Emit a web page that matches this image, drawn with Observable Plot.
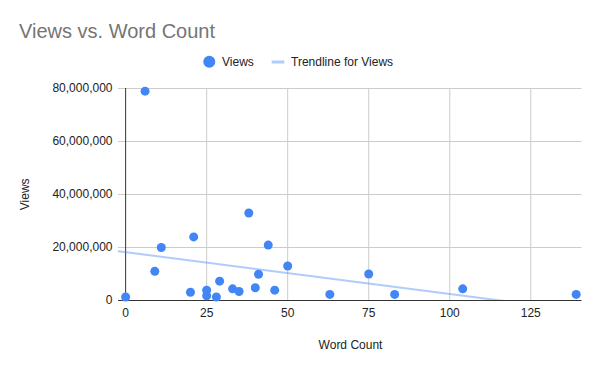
<!DOCTYPE html>
<html>
<head>
<meta charset="utf-8">
<script src="https://cdn.jsdelivr.net/npm/d3@7"></script>
<script src="https://cdn.jsdelivr.net/npm/@observablehq/plot@0.6"></script>
<style>
  html, body { margin: 0; padding: 0; background: #fff; }
  #chart { position: relative; width: 600px; height: 371px; font-family: "Liberation Sans", Arial, sans-serif; }
  #chart > svg.overlay { position: absolute; left: 0; top: 0; pointer-events: none; }
</style>
</head>
<body>
<div id="chart"></div>
<script>
// Data
const wordCount = [0, 6, 9, 11, 20, 21, 25, 25, 28, 29, 33, 35, 38, 40, 41, 44, 46, 50, 63, 75, 83, 104, 139];
const views = [1.3e6, 79e6, 11e6, 20e6, 3.1e6, 24e6, 3.9e6, 1.8e6, 1.3e6, 7.3e6, 4.4e6, 3.4e6, 33e6, 4.8e6, 9.9e6, 20.9e6, 3.9e6, 13e6, 2.3e6, 10e6, 2.3e6, 4.4e6, 2.3e6];
const xTicks = [0, 25, 50, 75, 100, 125];
const yTicks = [0, 20e6, 40e6, 60e6, 80e6];
const titleText = "Views vs. Word Count";
const seriesName = "Views";
const trendName = "Trendline for Views";
const xLabel = "Word Count";
const yLabel = "Views";

const data = wordCount.map((w, i) => ({x: w, y: views[i]}));

// Least-squares trendline
const mx = d3.mean(wordCount), my = d3.mean(views);
const sxy = d3.sum(data, d => (d.x - mx) * (d.y - my));
const sxx = d3.sum(data, d => (d.x - mx) ** 2);
const slope = sxy / sxx, intercept = my - slope * mx;
const xDomain = [-2.2, 140.8];
const trend = xDomain.map(x => ({x, y: intercept + slope * x}));

const font = '"Liberation Sans", Arial, sans-serif';
const plot = Plot.plot({
  width: 600,
  height: 371,
  marginLeft: 118,
  marginRight: 18.5,
  marginTop: 88,
  marginBottom: 71,
  style: {fontFamily: font, fontSize: "12px", color: "#222", background: "transparent"},
  x: {domain: xDomain},
  y: {domain: [0, 80e6]},
  marks: [
    Plot.gridX(xTicks.filter(d => d !== 0), {stroke: "#cccccc", strokeOpacity: 1}),
    Plot.gridY(yTicks.filter(d => d !== 0), {stroke: "#cccccc", strokeOpacity: 1}),
    Plot.axisX(xTicks, {tickSize: 0, tickPadding: 8, label: null, fill: "#222"}),
    Plot.axisY(yTicks, {tickSize: 0, tickPadding: 6, label: null, tickFormat: d3.format(","), fill: "#222"}),
    Plot.ruleX([0], {stroke: "#333"}),
    Plot.ruleY([0], {stroke: "#333"}),
    Plot.line(trend, {x: "x", y: "y", stroke: "#4285f4", strokeOpacity: 0.42, strokeWidth: 2, clip: true}),
    Plot.dot(data, {x: "x", y: "y", r: 4.5, fill: "#4285f4"})
  ]
});

const chart = document.getElementById("chart");
chart.appendChild(plot);

// Overlay: title, legend, axis titles
const ns = "http://www.w3.org/2000/svg";
const ov = document.createElementNS(ns, "svg");
ov.setAttribute("class", "overlay");
ov.setAttribute("width", 600);
ov.setAttribute("height", 371);
ov.setAttribute("font-family", font);
function el(tag, attrs, text) {
  const e = document.createElementNS(ns, tag);
  for (const k in attrs) e.setAttribute(k, attrs[k]);
  if (text != null) e.textContent = text;
  ov.appendChild(e);
  return e;
}
el("text", {x: 19, y: 37.5, "font-size": 20, fill: "#757575"}, titleText);
el("circle", {cx: 209.3, cy: 61.7, r: 6, fill: "#4285f4"});
el("text", {x: 222, y: 66, "font-size": 12, fill: "#222"}, seriesName);
el("line", {x1: 271.7, x2: 284.3, y1: 62, y2: 62, stroke: "#4285f4", "stroke-opacity": 0.42, "stroke-width": 3});
el("text", {x: 291, y: 66, "font-size": 12, fill: "#222"}, trendName);
el("text", {x: 350.5, y: 349, "font-size": 12, fill: "#222", "text-anchor": "middle"}, xLabel);
el("text", {x: 0, y: 0, "font-size": 12, fill: "#222", "text-anchor": "middle", transform: "translate(29,194.3) rotate(-90)"}, yLabel);
chart.appendChild(ov);
</script>
</body>
</html>
